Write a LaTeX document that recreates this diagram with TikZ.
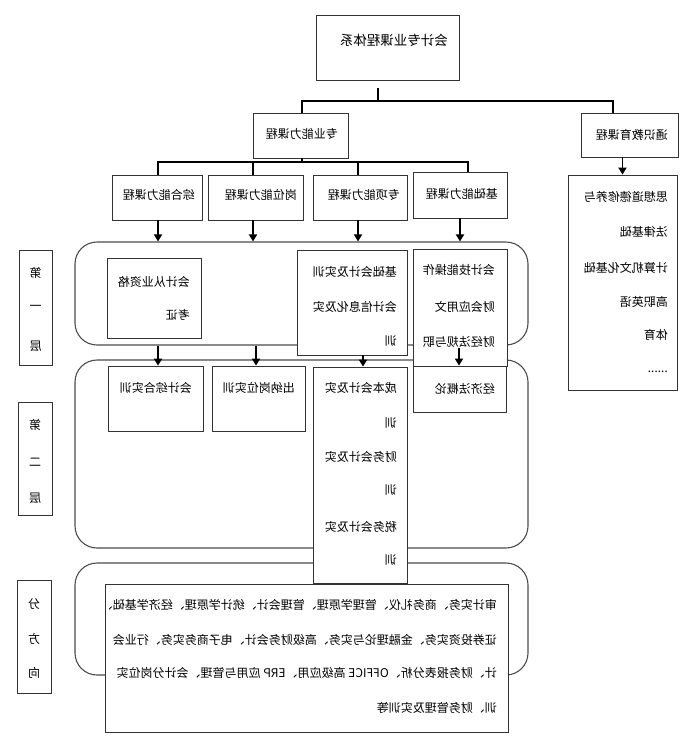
\documentclass[tikz,border=0pt]{standalone}
\usepackage{fontspec}
\newfontfamily\cjk{Noto Sans CJK SC}
\usetikzlibrary{arrows.meta,fit}
\tikzset{
  box/.style={draw=black!80, line width=0.8pt, fill=white, inner sep=0pt},
  region/.style={draw=black!70, line width=1.1pt, rounded corners=22pt, inner sep=0pt},
  conn/.style={line width=1.8pt},
  arr/.style={conn, -{Triangle[length=7pt,width=8pt]}},
  txt/.style={font=\cjk\fontsize{12}{14}\selectfont, inner sep=0pt, anchor=east},
  big/.style={font=\cjk\fontsize{13.5}{16}\selectfont},
  mid/.style={anchor=center}
}
\newcommand\tx[4][]{\node[txt,#1] (#2) at #3 {\reflectbox{#4}};}
\begin{document}
\begin{tikzpicture}[x=1pt,y=-1pt]
\useasboundingbox (0,0) rectangle (700,744);
% regions
\node[region, fit={(75,242) (528,345)}] (r1) {};
\node[region, fit={(75,360) (528,548)}] (r2) {};
\node[region, fit={(75,563) (528,675)}] (r3) {};
% boxes
\node[box, fit={(316,15) (459,80)}] (title) {};
\node[box, fit={(253,113) (348,158)}] (zy) {};
\node[box, fit={(581,113) (678,157)}] (ty) {};
\node[box, fit={(568,175) (677,390)}] (ls) {};
\node[box, fit={(112,175) (202,220)}] (zh) {};
\node[box, fit={(208,175) (303,220)}] (gw) {};
\node[box, fit={(313,175) (407,220)}] (zx) {};
\node[box, fit={(413,172) (507,218)}] (jc) {};
\node[box, fit={(107,258) (201,338)}] (kz) {};
\node[box, fit={(297,250) (407,355)}] (jk) {};
\node[box, fit={(413,249) (507,366)}] (jn) {};
\node[box, fit={(108,366) (203,431)}] (zs) {};
\node[box, fit={(212,366) (305,431)}] (cn) {};
\node[box, fit={(313,367) (407,583)}] (cb) {};
\node[box, fit={(413,366) (506,412)}] (jj) {};
\node[box, fit={(105,584) (508,732)}] (fx) {};
\node[box, fit={(19,250) (52,365)}] (L1) {};
\node[box, fit={(18,402) (52,515)}] (L2) {};
\node[box, fit={(17,580) (51,693)}] (L3) {};
% connectors top
\coordinate (stub) at (378,88);
\coordinate (jL) at (302,101);
\coordinate (jR) at (613,101);
\draw[conn] (stub) -- (stub |- jL);
\draw[conn] (zy.north -| jL) -- (jL) -- (jR) -- (ty.north -| jR);
\coordinate (bL) at (158,162);
\coordinate (bR) at (468,162);
\coordinate (bM1) at (253,162);
\coordinate (bM2) at (358,162);
\coordinate (bZ) at (302,162);
\draw[conn] (zy.south -| bZ) -- (bZ);
\draw[conn] (zh.north -| bL) -- (bL) -- (bR) -- (jc.north -| bR);
\draw[conn] (gw.north -| bM1) -- (bM1);
\draw[conn] (zx.north -| bM2) -- (bM2);
\draw[arr] (ty.south -| ls.north) -- (ls.north);
% arrows into level one
\coordinate (a1) at (158,0);
\coordinate (a2) at (253,0);
\coordinate (a3) at (358,0);
\coordinate (a4) at (460,0);
\draw[arr] (zh.south -| a1) -- (r1.north -| a1);
\draw[arr] (gw.south -| a2) -- (r1.north -| a2);
\draw[arr] (zx.south -| a3) -- (r1.north -| a3);
\draw[arr] (jc.south -| a4) -- (r1.north -| a4);
% arrows into level two
\coordinate (b1) at (158,0);
\coordinate (b2) at (256,0);
\coordinate (b3) at (363,0);
\coordinate (b4) at (459,348);
\draw[arr] (r1.south -| b1) -- (zs.north -| b1);
\draw[arr] (r1.south -| b2) -- (cn.north -| b2);
\draw[arr] (jk.south -| b3) -- (cb.north -| b3);
\draw[arr] (b4) -- (jj.north -| b4);
% texts
\tx[big]{t0}{(448,40)}{会计专业课程体系}
\tx{t1}{(338,134)}{专业能力课程}
\tx{t2}{(668,135)}{通识教育课程}
\tx{l1}{(668,197)}{思想道德修养与}
\tx{l2}{(668,232)}{法律基础}
\tx{l3}{(668,268)}{计算机文化基础}
\tx{l4}{(668,302)}{高职英语}
\tx{l5}{(668,335)}{体育}
\tx{l6}{(668,372)}{......}
\tx{t3}{(195,195)}{综合能力课程}
\tx{t4}{(297,195)}{岗位能力课程}
\tx{t5}{(400,195)}{专项能力课程}
\tx{t6}{(498,194)}{基础能力课程}
\tx{k1}{(190,282)}{会计从业资格}
\tx{k2}{(190,315)}{考证}
\tx{j1}{(397,272)}{基础会计及实训}
\tx{j2}{(397,307)}{会计信息化及实}
\tx{j3}{(397,341)}{训}
\tx{n1}{(495,270)}{会计技能操作}
\tx{n2}{(495,307)}{财会应用文}
\tx{n3}{(495,342)}{财经法规与职}
\tx{s1}{(192,388)}{会计综合实训}
\tx{c1}{(295,388)}{出纳岗位实训}
\tx{cb1}{(397,388)}{成本会计及实}
\tx{cb2}{(397,423)}{训}
\tx{cb3}{(397,457)}{财务会计及实}
\tx{cb4}{(397,490)}{训}
\tx{cb5}{(397,527)}{税务会计及实}
\tx{cb6}{(397,560)}{训}
\tx{e1}{(495,389)}{经济法概论}
\tx{f1}{(497,605)}{审计实务、商务礼仪、管理学原理、管理会计、统计学原理、经济学基础、}
\tx{f2}{(497,640)}{证券投资实务、金融理论与实务、高级财务会计、电子商务实务、行业会}
\tx{f3}{(497,673)}{计、财务报表分析、OFFICE 高级应用、ERP 应用与管理、会计分岗位实}
\tx{f4}{(497,708)}{训、财务管理及实训等}
\tx[mid]{m1}{(35.5,273)}{第}
\tx[mid]{m2}{(35.5,308)}{一}
\tx[mid]{m3}{(35.5,346)}{层}
\tx[mid]{m4}{(35,425)}{第}
\tx[mid]{m5}{(35,462)}{二}
\tx[mid]{m6}{(35,498)}{层}
\tx[mid]{m7}{(34,604)}{分}
\tx[mid]{m8}{(34,639)}{方}
\tx[mid]{m9}{(34,673)}{向}
\end{tikzpicture}
\end{document}
